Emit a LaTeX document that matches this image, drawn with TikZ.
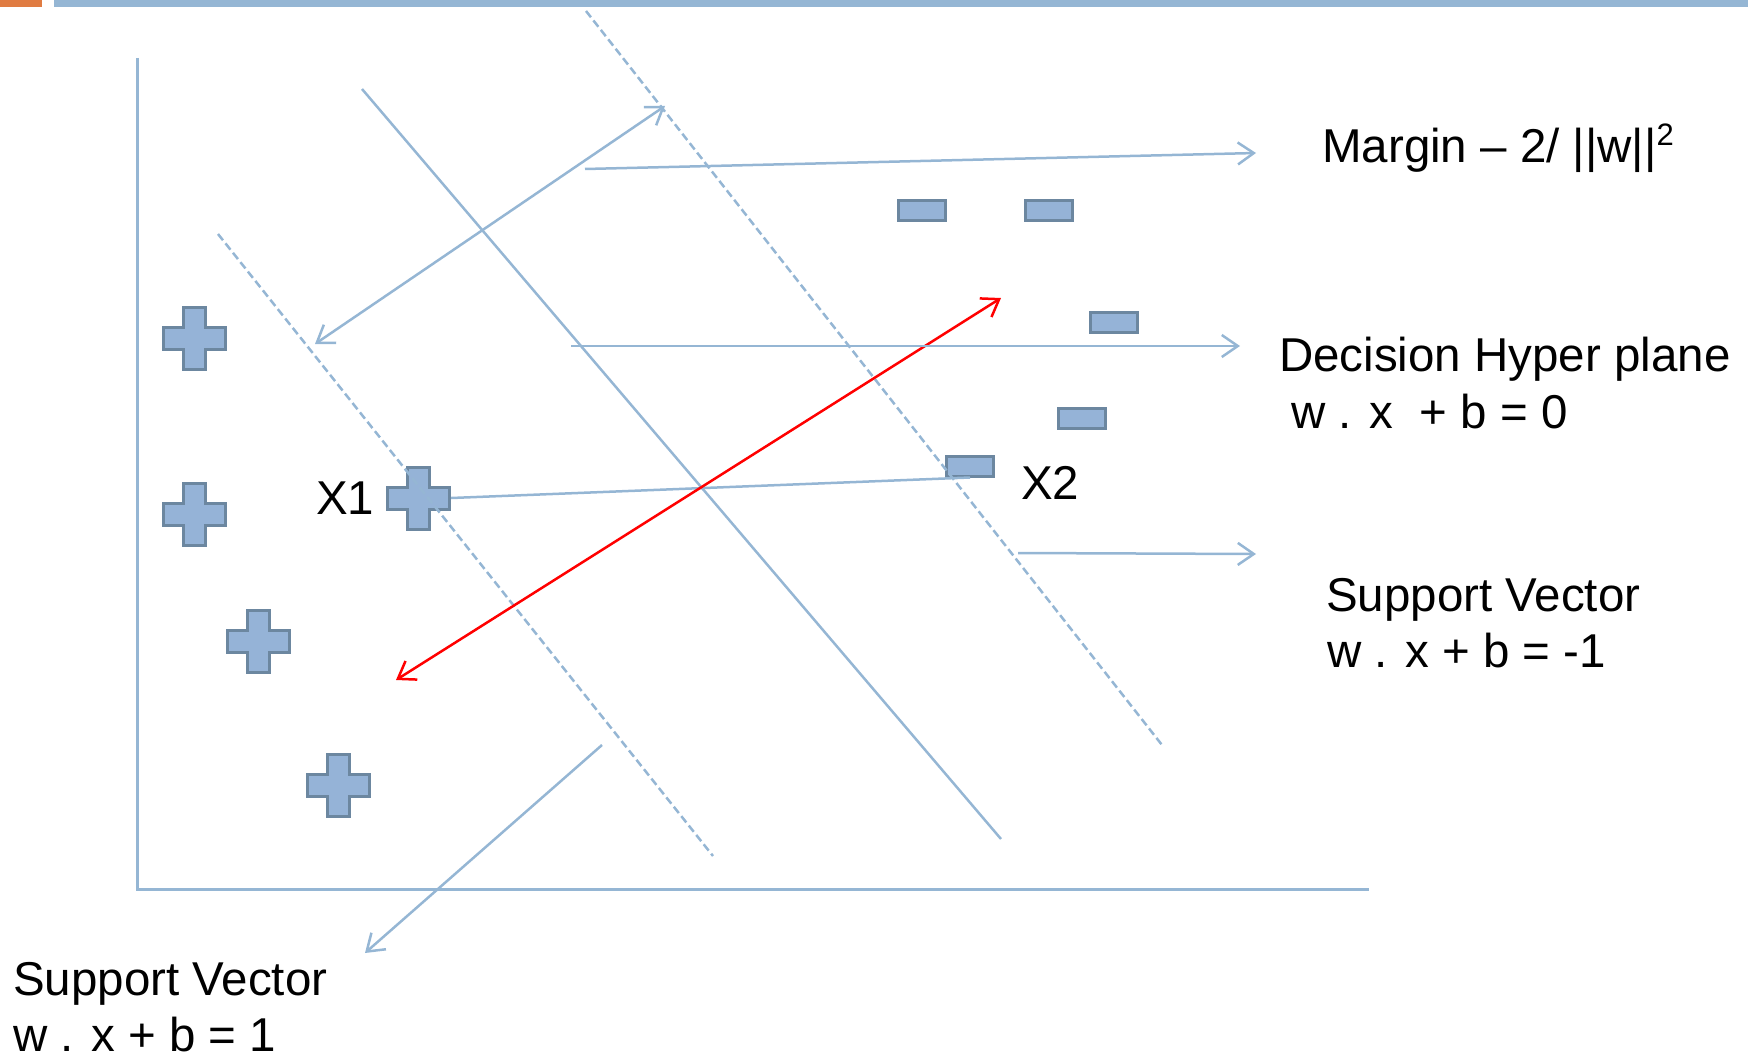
\documentclass[tikz,border=0pt]{standalone}
\usepackage{fontspec}
\setmainfont{Liberation Sans}
\usetikzlibrary{arrows.meta}

\definecolor{lineblue}{RGB}{149,182,212}
\definecolor{markfill}{RGB}{149,179,215}
\definecolor{markedge}{RGB}{108,135,160}
\definecolor{accent}{RGB}{224,124,66}

\begin{document}
\begin{tikzpicture}[x=1pt,y=-1pt,
  conn/.style={draw=lineblue, line width=2.5pt},
  guide/.style={draw=lineblue, line width=2.5pt, dash pattern=on 8pt off 4pt},
  axis/.style={draw=lineblue, line width=3pt},
  tipend/.style={-{Straight Barb[length=16pt,width=22pt]}},
  tipboth/.style={{Straight Barb[length=16pt,width=22pt]}-{Straight Barb[length=16pt,width=22pt]}},
  plusmark/.style={minimum size=66pt, inner sep=0pt,
    path picture={\filldraw[fill=markfill, draw=markedge, line width=3pt]
      ([shift={(-11pt,-31pt)}]path picture bounding box.center)
      -- ++(22pt,0pt) -- ++(0pt,20pt) -- ++(20pt,0pt) -- ++(0pt,22pt)
      -- ++(-20pt,0pt) -- ++(0pt,20pt) -- ++(-22pt,0pt) -- ++(0pt,-20pt)
      -- ++(-20pt,0pt) -- ++(0pt,-22pt) -- ++(20pt,0pt) -- cycle;}},
  minusmark/.style={draw=markedge, fill=markfill, line width=3pt,
    minimum width=47pt, minimum height=20pt, inner sep=0pt},
  lbl/.style={anchor=base west, inner sep=0pt, font=\fontsize{47.5}{57}\selectfont}
]
\useasboundingbox (0,0) rectangle (1748,1054);

% header bars
\fill[accent] (0,0) rectangle (42,7);
\fill[lineblue] (54,0) rectangle (1748,7);

% axes
\coordinate (origin) at (137,889);
\coordinate (ytop) at (137,58);
\coordinate (xend) at (1369,889);
\draw[axis] (ytop) -- (origin) -- (xend);

% class +1 samples
\node[plusmark] (p1) at (194,338) {};
\node[plusmark] (p2) at (194,514) {};
\node[plusmark] (p3) at (258,641) {};
\node[plusmark] (p4) at (338,785) {};
\node[plusmark] (x1) at (418,498) {};

% class -1 samples
\node[minusmark] (m1) at (922,210) {};
\node[minusmark] (m2) at (1049,210) {};
\node[minusmark] (m3) at (1114,322) {};
\node[minusmark] (m4) at (1082,418) {};
\node[minusmark] (x2) at (970,466) {};

% separating hyperplane and the two margin boundaries
\coordinate (hp1) at (362,89);
\coordinate (hp2) at (1001,839);
\draw[conn] (hp1) -- (hp2);
\coordinate (svp1) at (218,234);
\coordinate (svp2) at (713,856);
\draw[guide] (svp1) -- (svp2);
\coordinate (svn1) at (586,11);
\coordinate (svn2) at (1162,745);
\draw[guide] (svn1) -- (svn2);

% segment joining the two closest samples
\draw[conn] (x1.east) -- (x2.south);

% margin width
\coordinate (mg1) at (315,344);
\coordinate (mg2) at (665,106);
\draw[conn, tipboth] (mg1) -- (mg2);

% normal direction
\coordinate (nv1) at (396,680);
\coordinate (nv2) at (1001,298);
\draw[red, line width=2.5pt, tipboth] (nv1) -- (nv2);

% labels
\node[lbl] (tmargin) at (1322,163) {Margin – 2/ ||w||\raisebox{0.36em}{\fontsize{31}{31}\selectfont 2}};
\node[lbl] (tplane) at (1279,371) {Decision Hyper plane};
\node[lbl] (tplaneeq) at (1291,428) {w . x\ \ + b = 0};
\node[lbl] (tsvn) at (1326,611) {Support Vector};
\node[lbl] (tsvneq) at (1327,667) {w . x + b = -1};
\node[lbl] (tsvp) at (13,995) {Support Vector};
\node[lbl] (tsvpeq) at (13,1051) {w . x + b = 1};
\node[lbl] (tx1) at (316,514) {X1};
\node[lbl] (tx2) at (1021,499) {X2};

% pointers to the labels
\coordinate (a1s) at (585,169);
\coordinate (a1e) at (1256,153);
\draw[conn, tipend] (a1s) -- (a1e);
\coordinate (a2s) at (571,346);
\coordinate (a2e) at (1240,346);
\draw[conn, tipend] (a2s) -- (a2e);
\coordinate (a3s) at (1018,553);
\coordinate (a3e) at (1256,554);
\draw[conn, tipend] (a3s) -- (a3e);
\coordinate (a4s) at (602,745);
\coordinate (a4e) at (365,953);
\draw[conn, tipend] (a4s) -- (a4e);
\end{tikzpicture}
\end{document}
